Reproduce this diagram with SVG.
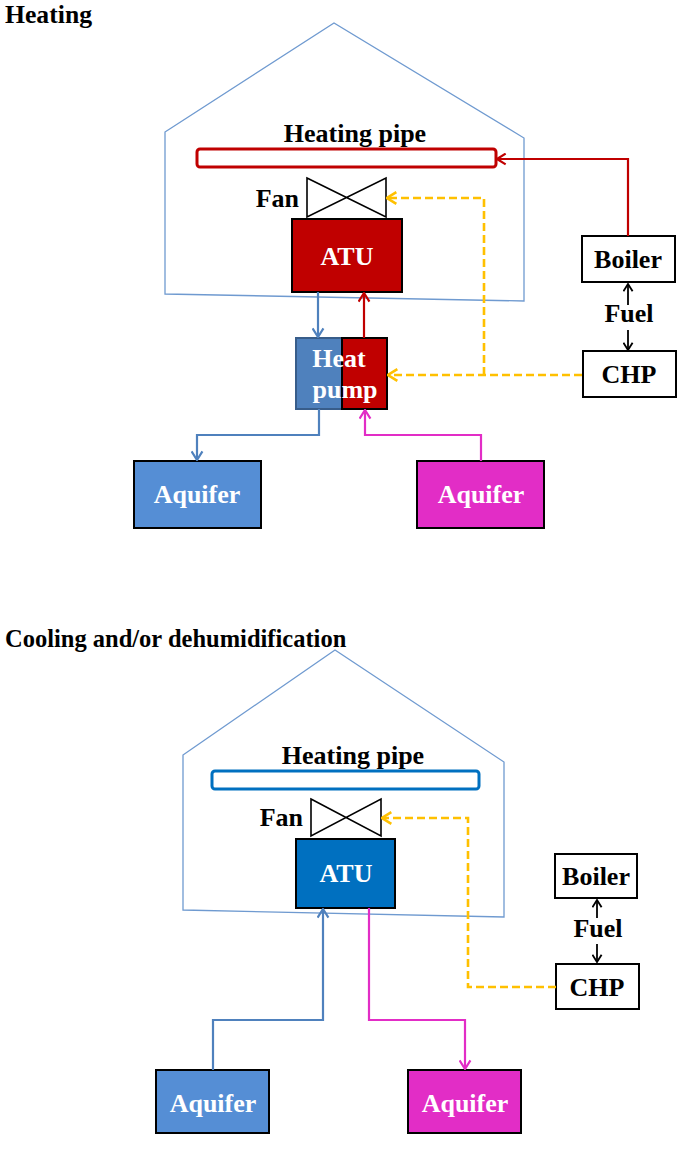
<svg xmlns="http://www.w3.org/2000/svg" width="687" height="1152" viewBox="0 0 687 1152">
<defs>
<style>
text{font-family:"Liberation Serif","Times New Roman",serif;font-weight:bold;font-size:26px}
.w{fill:#fff}
.k{fill:#000}
.m{text-anchor:middle}
.title{font-size:24.5px}
.house{fill:none;stroke:#6F9AD0;stroke-width:1.3}
.box{stroke:#000;stroke-width:2}
.fan{fill:#fff;stroke:#000;stroke-width:1.6}
.red{fill:none;stroke:#C00000;stroke-width:2.2}
.blu{fill:none;stroke:#4F81BD;stroke-width:2.2}
.mag{fill:none;stroke:#E22DC6;stroke-width:2.2}
.yel{fill:none;stroke:#FFC000;stroke-width:2.6;stroke-dasharray:8,4}
.blk{fill:none;stroke:#000;stroke-width:1.8}
</style>
<marker id="aR" viewBox="0 0 12 12" refX="11" refY="6" markerWidth="13" markerHeight="13" markerUnits="userSpaceOnUse" orient="auto"><path d="M3,1 L11,6 L3,11" fill="none" stroke="#C00000" stroke-width="2"/></marker>
<marker id="aB" viewBox="0 0 12 12" refX="11" refY="6" markerWidth="13" markerHeight="13" markerUnits="userSpaceOnUse" orient="auto"><path d="M3,1 L11,6 L3,11" fill="none" stroke="#4F81BD" stroke-width="2"/></marker>
<marker id="aM" viewBox="0 0 12 12" refX="11" refY="6" markerWidth="13" markerHeight="13" markerUnits="userSpaceOnUse" orient="auto"><path d="M3,1 L11,6 L3,11" fill="none" stroke="#E22DC6" stroke-width="2"/></marker>
<marker id="aY" viewBox="0 0 12 12" refX="11" refY="6" markerWidth="14" markerHeight="14" markerUnits="userSpaceOnUse" orient="auto"><path d="M3,1 L11,6 L3,11" fill="none" stroke="#FFC000" stroke-width="2.2"/></marker>
<marker id="aK" viewBox="0 0 12 12" refX="11" refY="6" markerWidth="11" markerHeight="11" markerUnits="userSpaceOnUse" orient="auto"><path d="M3,1 L11,6 L3,11" fill="none" stroke="#000" stroke-width="2"/></marker>
</defs>
<rect width="687" height="1152" fill="#fff"/>

<!-- ===== Heating section ===== -->
<text x="5" y="23" class="k title" textLength="87" lengthAdjust="spacingAndGlyphs">Heating</text>
<g id="house1"><path class="house" d="M165,132 L334,23 L524,138 L524,301 L165,294 Z"/></g>
<g id="pipe1">
<text x="355" y="142" class="k m">Heating pipe</text>
<rect x="197" y="149" width="299" height="18" rx="3" fill="#fff" stroke="#C00000" stroke-width="3"/>
</g>
<g id="fan1">
<text x="299" y="207" class="k" text-anchor="end">Fan</text>
<path class="fan" d="M307,178 L386,217 L386,178 L307,217 Z"/>
</g>
<g id="atu1">
<rect x="292" y="219" width="110" height="73" class="box" fill="#C00000"/>
<text x="347" y="265" class="w m">ATU</text>
</g>
<g id="heatpump">
<rect x="296" y="338" width="46" height="71" fill="#4F81BD" stroke="#385D8A" stroke-width="2"/>
<rect x="342" y="338" width="45" height="71" class="box" fill="#C00000"/>
<text x="339" y="367" class="w m">Heat</text>
<text x="345" y="398" class="w m">pump</text>
</g>
<g id="boiler1">
<rect x="582" y="236" width="93" height="46" class="box" fill="#fff"/>
<text x="628" y="268" class="k m">Boiler</text>
</g>
<g id="fuel1"><text x="629" y="322" class="k m">Fuel</text></g>
<g id="chp1">
<rect x="583" y="351" width="93" height="46" class="box" fill="#fff"/>
<text x="629" y="383" class="k m">CHP</text>
</g>
<g id="aqL1">
<rect x="134" y="461" width="127" height="67" class="box" fill="#558ED5"/>
<text x="197" y="503" class="w m">Aquifer</text>
</g>
<g id="aqR1">
<rect x="417" y="461" width="127" height="67" class="box" fill="#E22DC6"/>
<text x="481" y="503" class="w m">Aquifer</text>
</g>
<g id="connectors1">
<path class="red" d="M628,236 L628,159 L497,159" marker-end="url(#aR)"/>
<path class="yel" d="M582,375 L388,375" marker-end="url(#aY)"/>
<path class="yel" d="M484,375 L484,198 L387,198" marker-end="url(#aY)"/>
<path class="blu" d="M318,292 L318,337" marker-end="url(#aB)"/>
<path class="red" d="M364,338 L364,293" marker-end="url(#aR)"/>
<path class="blu" d="M319,409 L319,435 L197,435 L197,460" marker-end="url(#aB)"/>
<path class="mag" d="M481,461 L481,435 L365,435 L365,410" marker-end="url(#aM)"/>
<path class="blk" d="M628,305 L628,284" marker-end="url(#aK)"/>
<path class="blk" d="M628,330 L628,350" marker-end="url(#aK)"/>
</g>

<!-- ===== Cooling section ===== -->
<text x="5" y="647" class="k title">Cooling and/or dehumidification</text>
<g id="house2"><path class="house" d="M183,755 L335,650 L504,762 L504,917 L183,910 Z"/></g>
<g id="pipe2">
<text x="353" y="764" class="k m">Heating pipe</text>
<rect x="212" y="771" width="267" height="18" rx="3" fill="#fff" stroke="#0070C0" stroke-width="3"/>
</g>
<g id="fan2">
<text x="303" y="826" class="k" text-anchor="end">Fan</text>
<path class="fan" d="M311,799 L381,836 L381,799 L311,836 Z"/>
</g>
<g id="atu2">
<rect x="296" y="839" width="99" height="69" class="box" fill="#0070C0"/>
<text x="346" y="882" class="w m">ATU</text>
</g>
<g id="boiler2">
<rect x="555" y="854" width="82" height="44" class="box" fill="#fff"/>
<text x="596" y="885" class="k m">Boiler</text>
</g>
<g id="fuel2"><text x="598" y="937" class="k m">Fuel</text></g>
<g id="chp2">
<rect x="556" y="964" width="83" height="45" class="box" fill="#fff"/>
<text x="597" y="996" class="k m">CHP</text>
</g>
<g id="aqL2">
<rect x="156" y="1070" width="113" height="63" class="box" fill="#558ED5"/>
<text x="213" y="1112" class="w m">Aquifer</text>
</g>
<g id="aqR2">
<rect x="408" y="1070" width="113" height="63" class="box" fill="#E22DC6"/>
<text x="465" y="1112" class="w m">Aquifer</text>
</g>
<g id="connectors2">
<path class="blu" d="M213,1070 L213,1020 L323,1020 L323,909" marker-end="url(#aB)"/>
<path class="mag" d="M369,908 L369,1020 L465,1020 L465,1069" marker-end="url(#aM)"/>
<path class="yel" d="M556,987 L468,987 L468,818 L382,818" marker-end="url(#aY)"/>
<path class="blk" d="M597,918 L597,900" marker-end="url(#aK)"/>
<path class="blk" d="M597,944 L597,962" marker-end="url(#aK)"/>
</g>
</svg>
